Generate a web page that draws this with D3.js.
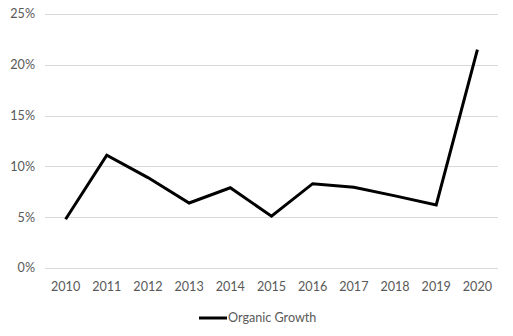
<!DOCTYPE html>
<html><head><meta charset="utf-8">
<script src="https://cdn.jsdelivr.net/npm/d3@7"></script>
<style>body{margin:0;background:#fff}svg{display:block}text{font-family:Lato,"Open Sans",sans-serif;fill:#595959;font-size:12.6px}</style>
</head><body><svg id="c" width="513" height="336"></svg>
<script>
const years = ["2010","2011","2012","2013","2014","2015","2016","2017","2018","2019","2020"];
const organicGrowth = [4.8, 11.1, 8.9, 6.4, 7.9, 5.1, 8.3, 7.95, 7.1, 6.2, 21.5];
const yTicks = [0, 5, 10, 15, 20, 25];
const seriesName = "Organic Growth";

const svg = d3.select("#c");
const x = d3.scaleBand().domain(years).range([45, 498]);
const y = d3.scaleLinear().domain([0, 25]).range([268, 14]);

svg.append("g").selectAll("line").data(yTicks).join("line")
  .attr("x1", 45).attr("x2", 498)
  .attr("y1", d => Math.round(y(d)) + 0.5).attr("y2", d => Math.round(y(d)) + 0.5)
  .attr("stroke", "#d9d9d9").attr("stroke-width", 1);

svg.append("g").selectAll("text").data(yTicks).join("text")
  .attr("x", 35).attr("y", d => y(d)).attr("dy", "0.35em")
  .attr("text-anchor", "end").text(d => d + "%");

svg.append("g").selectAll("text").data(years).join("text")
  .attr("x", d => x(d) + x.bandwidth() / 2).attr("y", 291)
  .attr("text-anchor", "middle").text(d => d);

const line = d3.line().x((d, i) => x(years[i]) + x.bandwidth() / 2).y(d => y(d));
svg.append("path").datum(organicGrowth).attr("d", line)
  .attr("fill", "none").attr("stroke", "#000").attr("stroke-width", 3)
  .attr("stroke-linejoin", "miter").attr("stroke-linecap", "butt");

const lg = svg.append("g");
lg.append("line").attr("x1", 199).attr("x2", 227).attr("y1", 318).attr("y2", 318)
  .attr("stroke", "#000").attr("stroke-width", 3);
lg.append("text").attr("x", 228).attr("y", 318).attr("dy", "0.35em").text(seriesName);
</script></body></html>
